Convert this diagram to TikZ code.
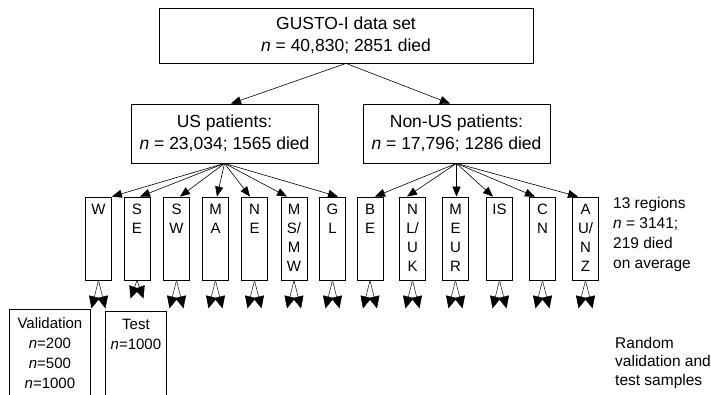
\documentclass[tikz,border=0pt]{standalone}
\usepackage{fontspec}
\setmainfont{Liberation Sans}
\usetikzlibrary{arrows.meta}
\begin{document}
\begin{tikzpicture}[x=1pt,y=-1pt,
  bigbox/.style={draw, line width=0.8pt, align=center, inner sep=0pt,
    font=\fontsize{17.5}{22}\selectfont},
  regbox/.style={draw, line width=0.8pt, minimum width=26pt, minimum height=83pt, inner sep=0pt},
  reglab/.style={anchor=north, align=center, inner sep=0pt, yshift=-7pt,
    font=\fontsize{15}{19}\selectfont},
  sampbox/.style={draw, line width=0.8pt, anchor=north west, minimum height=120pt, inner sep=0pt},
  samplab/.style={anchor=north, align=center, inner sep=0pt, yshift=-8pt,
    font=\fontsize{15}{20}\selectfont},
  sidetext/.style={anchor=north west, align=left, inner sep=0pt},
  arr/.style={line width=0.6pt, -{Triangle[length=10pt,width=8pt]}},
  bow/.style={line width=0.5pt, -{Triangle[length=12pt,width=11pt]}}]
\useasboundingbox (0,0) rectangle (711,394);
\clip (0,0) rectangle (711,394);

\node[bigbox, minimum width=374pt, minimum height=55pt] (top) at (346,35.5)
  {GUSTO-I data set\\\textit{n} = 40,830; 2851 died};
\node[bigbox, minimum width=187pt, minimum height=59pt] (us) at (224.5,133.5)
  {US patients:\\\textit{n} = 23,034; 1565 died};
\node[bigbox, minimum width=187pt, minimum height=59pt] (nonus) at (456.5,133.5)
  {Non-US patients:\\\textit{n} = 17,796; 1286 died};

\draw[arr] (top.south) -- ([xshift=6.5pt]us.north);
\draw[arr] (top.south) -- ([xshift=-6.5pt]nonus.north);

\node[regbox, label={[reglab]north:W}] (w) at (98.5,238.5) {};
\node[regbox, label={[reglab]north:{S\\E}}] (se) at (137,238.5) {};
\node[regbox, label={[reglab]north:{S\\W}}] (sw) at (176.5,238.5) {};
\node[regbox, label={[reglab]north:{M\\A}}] (ma) at (215.5,238.5) {};
\node[regbox, label={[reglab]north:{N\\E}}] (ne) at (254.5,238.5) {};
\node[regbox, label={[reglab]north:{M\\S/\\M\\W}}] (msmw) at (294,238.5) {};
\node[regbox, label={[reglab]north:{G\\L}}] (gl) at (332.5,238.5) {};
\node[regbox, label={[reglab]north:{B\\E}}] (be) at (370,238.5) {};
\node[regbox, label={[reglab]north:{N\\L/\\U\\K}}] (nluk) at (412.5,238.5) {};
\node[regbox, label={[reglab]north:{M\\E\\U\\R}}] (meur) at (455.5,238.5) {};
\node[regbox, label={[reglab]north:{IS}}] (isr) at (499.5,238.5) {};
\node[regbox, label={[reglab]north:{C\\N}}] (cn) at (542.5,238.5) {};
\node[regbox, label={[reglab]north:{A\\U/\\N\\Z}}] (aunz) at (585.5,238.5) {};

\draw[arr] (us.south) -- (w.north east);
\draw[arr] (us.south) -- ([xshift=3pt]se.north);
\draw[arr] (us.south) -- ([xshift=3.5pt]sw.north);
\draw[arr] (us.south) -- ([xshift=1.5pt]ma.north);
\draw[arr] (us.south) -- ([xshift=-4.5pt]ne.north);
\draw[arr] (us.south) -- ([xshift=-7pt]msmw.north);
\draw[arr] (us.south) -- ([xshift=5.5pt]gl.north);
\draw[arr] (nonus.south) -- ([xshift=5pt]be.north);
\draw[arr] (nonus.south) -- ([xshift=-5.5pt]nluk.north);
\draw[arr] (nonus.south) -- ([xshift=1pt]meur.north);
\draw[arr] (nonus.south) -- ([xshift=-6.5pt]isr.north);
\draw[arr] (nonus.south) -- ([xshift=-7.5pt]cn.north);
\draw[arr] (nonus.south) -- ([xshift=-7.5pt]aunz.north);

\foreach \r in {w,sw,ma,ne,msmw,gl,be,nluk,meur,isr,cn,aunz}{
  \draw[bow] (\r.south) -- ++(-7,28);
  \draw[bow] (\r.south) -- ++(7,28);
}
\draw[bow] (se.south) -- ++(-6.5,18);
\draw[bow] (se.south) -- ++(6.5,18);

\node[sampbox, minimum width=81pt,
  label={[samplab]north:{Validation\\\textit{n}=200\\\textit{n}=500\\\textit{n}=1000}}]
  (val) at (9,309) {};
\node[sampbox, minimum width=61pt,
  label={[samplab]north:{Test\\\textit{n}=1000}}]
  (test) at (105,311) {};

\node[sidetext, font=\fontsize{15.5}{20}\selectfont] (regtxt) at (613,197)
  {13 regions\\\textit{n} = 3141;\\219 died\\on average};
\node[sidetext, font=\fontsize{15.5}{18.5}\selectfont] (samptxt) at (615,337)
  {Random\\validation and\\test samples};
\end{tikzpicture}
\end{document}
